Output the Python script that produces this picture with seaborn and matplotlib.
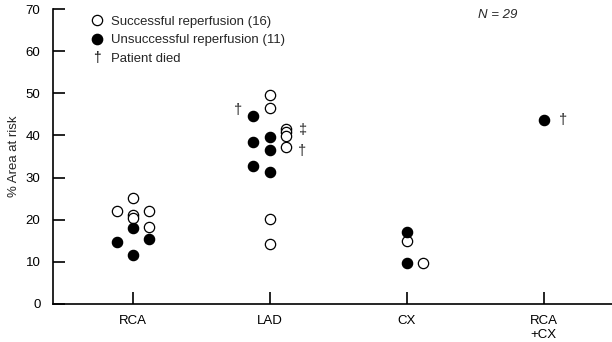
import matplotlib
matplotlib.use("Agg")
import matplotlib.pyplot as plt
from matplotlib.lines import Line2D
from matplotlib.text import Text
from matplotlib.legend_handler import HandlerBase
import seaborn as sns
import pandas as pd

sns.set_style("white")
plt.rcParams['font.family'] = ['Liberation Sans', 'DejaVu Sans']

categories = ["RCA", "LAD", "CX", "RCA\n+CX"]

# successful reperfusion (open circles)
succ_cat = ["RCA"] * 6 + ["LAD"] * 8 + ["CX"] * 2
succ_col = [0, -1, 1, 0, 0, 1, 0, 0, 1, 1, 1, 1, 0, 0, 0, 1]
succ_val = [25.2, 22.1, 22.1, 21.1, 20.3, 18.3,
            49.5, 46.5, 41.5, 40.7, 39.8, 37.2, 20.2, 14.2,
            15.0, 9.7]

# unsuccessful reperfusion (filled circles)
fail_cat = ["RCA"] * 4 + ["LAD"] * 6 + ["CX"] * 2 + ["RCA\n+CX"]
fail_col = [0, -1, 1, 0, -1, 0, -1, 0, -1, 0, 0, 0, 0]
fail_val = [18.1, 14.8, 15.5, 11.7,
            44.7, 39.6, 38.4, 36.6, 32.8, 31.3,
            17.2, 9.7,
            43.6]

# patient died markers
died_cat = ["LAD", "LAD", "LAD", "RCA\n+CX"]
died_off = [-0.234, 0.234, 0.234, 0.146]
died_val = [46.0, 41.2, 36.4, 43.6]
died_sym = ["\u2020", "\u2021", "\u2020", "\u2020"]

col_step = 0.12
cat_idx = {c: i for i, c in enumerate(categories)}

succ = pd.DataFrame({"x": [cat_idx[c] + k * col_step for c, k in zip(succ_cat, succ_col)],
                     "y": succ_val})
fail = pd.DataFrame({"x": [cat_idx[c] + k * col_step for c, k in zip(fail_cat, fail_col)],
                     "y": fail_val})


class HandlerDagger(HandlerBase):
    def create_artists(self, legend, orig_handle, xdescent, ydescent,
                       width, height, fontsize, trans):
        t = Text(width / 2 - xdescent, height / 2 - ydescent, "\u2020",
                 ha="center", va="center", fontsize=fontsize * 1.05,
                 color="black", transform=trans)
        return [t]


fig = plt.figure(figsize=(6.12, 3.42), dpi=100)
ax = fig.add_axes([53 / 612, 38 / 342, 1 - 53 / 612, 1 - 38 / 342 - 9 / 342])

sns.scatterplot(data=succ, x="x", y="y", ax=ax, s=55, marker="o",
                facecolor="white", edgecolor="black", linewidth=0.9, zorder=3)
sns.scatterplot(data=fail, x="x", y="y", ax=ax, s=55, marker="o",
                color="black", edgecolor="black", linewidth=0.9, zorder=3)

for c, o, v, s in zip(died_cat, died_off, died_val, died_sym):
    ax.text(cat_idx[c] + o, v, s, ha="center", va="center", fontsize=10.5)

ax.text(2.52, 68.6, "N = 29", style="italic", fontsize=9.5, va="center", ha="left")

ax.set_xlim(-0.584, 3.50)
ax.set_ylim(0, 70)
ax.set_xticks(range(len(categories)))
ax.set_xticklabels(categories, fontsize=9.5, linespacing=1.2)
ax.set_yticks(range(0, 71, 10))
ax.tick_params(axis="both", direction="in", length=8.5, width=1.2, labelsize=9.5,
               colors="black", bottom=True, left=True, top=False, right=False)
ax.tick_params(axis="x", pad=8)
ax.tick_params(axis="y", pad=9)
ax.set_xlabel("")
ax.set_ylabel("% Area at risk", fontsize=9.5, labelpad=4)
for side in ["top", "right"]:
    ax.spines[side].set_visible(False)
for side in ["left", "bottom"]:
    ax.spines[side].set_linewidth(1.2)
    ax.spines[side].set_color("black")

dagger_handle = Line2D([], [], linestyle="none")
handles = [
    Line2D([], [], marker="o", linestyle="none", markersize=7.4,
           markerfacecolor="white", markeredgecolor="black", markeredgewidth=0.9),
    Line2D([], [], marker="o", linestyle="none", markersize=7.4,
           markerfacecolor="black", markeredgecolor="black"),
    dagger_handle,
]
labels = ["Successful reperfusion (16)", "Unsuccessful reperfusion (11)", "Patient died"]
ax.legend(handles, labels, loc="upper left", bbox_to_anchor=(0.058, 0.996),
          frameon=False, fontsize=9.45, handlelength=1.0, handletextpad=0.55,
          labelspacing=0.5, borderaxespad=0,
          handler_map={dagger_handle: HandlerDagger()})

fig.savefig("out.png", dpi=100)
